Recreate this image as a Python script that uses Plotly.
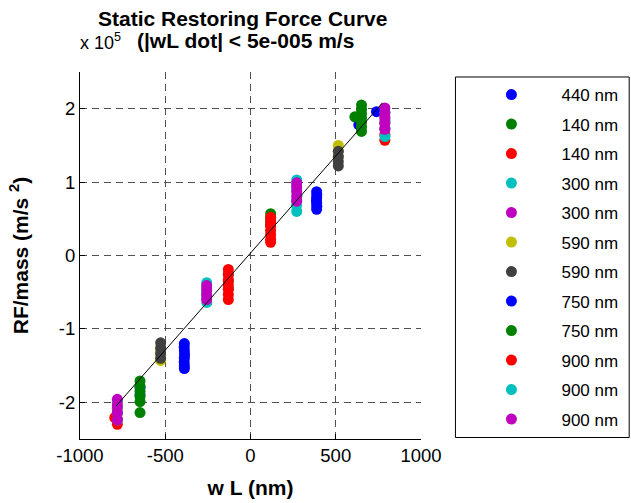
import plotly.graph_objects as go

# ---- data (wL in nm, RF/mass in units of 1e5 m/s^2) ----
labels = ["440 nm", "140 nm", "140 nm", "300 nm", "300 nm", "590 nm",
          "590 nm", "750 nm", "750 nm", "900 nm", "900 nm", "900 nm"]
colors = ["#0000ff", "#008000", "#ff0000", "#00bfbf", "#bf00bf", "#bfbf00",
          "#404040", "#0000ff", "#008000", "#ff0000", "#00bfbf", "#bf00bf"]

x_440_blue = [388, 389, 388, 387, 388, 389, 388, -388, -389, -388, -387, -388, -389, -388, -388]
y_440_blue = [0.87, 0.83, 0.79, 0.75, 0.71, 0.67, 0.63, -1.20, -1.25, -1.30, -1.35, -1.40, -1.45, -1.50, -1.54]

x_140_green = [118, 118, 118, 117, -130, -130, -130]
y_140_green = [0.57, 0.52, 0.47, 0.42, -0.25, -0.35, -0.45]

x_140_red = [118, 118, 118, 118, 118, 118, 118, -130, -130, -130, -130, -130, -130, -130]
y_140_red = [0.52, 0.46, 0.40, 0.34, 0.28, 0.22, 0.18, -0.19, -0.26, -0.33, -0.40, -0.46, -0.53, -0.60]

x_300_cyan = [271, 270, 271, 272, 271, 270, 271, -257, -257, -258, -257, -256]
y_300_cyan = [1.03, 0.96, 0.89, 0.82, 0.75, 0.68, 0.60, -0.37, -0.44, -0.51, -0.58, -0.64]

x_300_mag = [271, 271, 271, 271, 271, -257, -257, -257, -257]
y_300_mag = [0.99, 0.93, 0.87, 0.80, 0.74, -0.41, -0.47, -0.54, -0.60]

x_590_yel = [515, 515, 515, -527, -527, -527]
y_590_yel = [1.50, 1.42, 1.34, -1.28, -1.36, -1.43]

x_590_gray = [515, 515, 515, 515, -527, -527, -527, -527]
y_590_gray = [1.42, 1.35, 1.28, 1.22, -1.19, -1.26, -1.33, -1.40]

x_750_blue = [739, 635, -648, -648]
y_750_blue = [1.96, 1.78, -1.80, -1.90]

x_750_green = [651, 651, 651, 651, 651, 651, 651, 612, -648, -648, -648, -648, -648, -648]
y_750_green = [2.05, 1.99, 1.93, 1.87, 1.81, 1.75, 1.69, 1.89, -1.71, -1.78, -1.85, -1.92, -1.99, -2.14]

x_900_red = [788, 788, 788, 788, 788, -781, -781, -781, -781, -781, -796]
y_900_red = [1.90, 1.81, 1.73, 1.65, 1.57, -2.00, -2.08, -2.15, -2.23, -2.30, -2.21]

x_900_cyan = [789, 789, 789, 789, -780, -780, -780, -780]
y_900_cyan = [1.95, 1.84, 1.73, 1.62, -1.98, -2.06, -2.14, -2.24]

x_900_mag = [788, 788, 788, 788, 788, -781, -781, -781, -781]
y_900_mag = [2.01, 1.94, 1.87, 1.80, 1.72, -1.96, -2.05, -2.14, -2.24]

fit_x = [-788, 774]
fit_y = [-2.05, 2.08]

series_x = [x_440_blue, x_140_green, x_140_red, x_300_cyan, x_300_mag, x_590_yel,
            x_590_gray, x_750_blue, x_750_green, x_900_red, x_900_cyan, x_900_mag]
series_y = [y_440_blue, y_140_green, y_140_red, y_300_cyan, y_300_mag, y_590_yel,
            y_590_gray, y_750_blue, y_750_green, y_900_red, y_900_cyan, y_900_mag]

x_ticks = [-1000, -500, 0, 500, 1000]
y_ticks = [-2, -1, 0, 1, 2]

FONT = "Liberation Sans, Arial, sans-serif"

fig = go.Figure()
for i, (lab, col, xs, ys) in enumerate(zip(labels, colors, series_x, series_y)):
    fig.add_trace(go.Scatter(
        x=xs, y=ys, mode="markers", name=lab, legendgroup=f"g{i}",
        marker=dict(color=col, size=11, line=dict(width=0)),
    ))
fig.add_trace(go.Scatter(x=fit_x, y=fit_y, mode="lines", showlegend=False,
                         line=dict(color="black", width=1)))

# plot area in pixels
L, R, T, B = 80, 421.5, 72, 439.5
W, H = 631, 503
pw, ph = R - L, B - T


def px(x):
    return (x - L) / pw


def py(y):
    return (B - y) / ph


fig.update_layout(
    width=W, height=H,
    margin=dict(l=L, r=W - R, t=T, b=H - B, autoexpand=False),
    paper_bgcolor="white", plot_bgcolor="white",
    font=dict(family=FONT, color="black"),
    showlegend=True,
    legend=dict(
        x=px(462), xanchor="left", y=py(77), yanchor="top",
        bgcolor="rgba(0,0,0,0)", borderwidth=0,
        font=dict(size=17, family=FONT),
        itemwidth=90, tracegroupgap=4.4, traceorder="grouped",
    ),
    xaxis=dict(
        range=[-1000, 1000], tickvals=x_ticks, ticktext=[str(v) for v in x_ticks],
        showgrid=True, gridcolor="#505050", griddash="7px,5px", gridwidth=1,
        showline=True, linecolor="black", linewidth=1, mirror=False,
        ticks="inside", ticklen=5, tickcolor="black", zeroline=False,
        tickfont=dict(size=18.5, family=FONT),
        title=dict(text="<b>w L (nm)</b>", font=dict(size=21, family=FONT), standoff=15),
    ),
    yaxis=dict(
        range=[-2.5, 2.5], tickvals=y_ticks, ticktext=[str(v) for v in y_ticks],
        showgrid=True, gridcolor="#505050", griddash="7px,5px", gridwidth=1,
        showline=True, linecolor="black", linewidth=1, mirror=False,
        ticks="inside", ticklen=5, tickcolor="black", zeroline=False,
        tickfont=dict(size=18.5, family=FONT),
        title=dict(text="<b>RF/mass (m/s <sup>2</sup>)</b>", font=dict(size=21, family=FONT), standoff=24),
    ),
    shapes=[dict(type="rect", xref="paper", yref="paper",
                 x0=px(456), x1=px(630), y0=py(438), y1=py(77),
                 line=dict(color="black", width=1), fillcolor="rgba(0,0,0,0)")],
    annotations=[
        dict(text="<b>Static Restoring Force Curve</b>", xref="paper", yref="paper",
             x=px(243), y=py(18), xanchor="center", yanchor="middle", showarrow=False,
             borderpad=0, font=dict(size=21, family=FONT)),
        dict(text="<b>(|wL dot| < 5e-005 m/s</b>", xref="paper", yref="paper",
             x=px(136), y=py(40), xanchor="left", yanchor="middle", showarrow=False,
             borderpad=0, font=dict(size=21, family=FONT)),
        dict(text="x 10<sup>5</sup>", xref="paper", yref="paper",
             x=px(79), y=py(41), xanchor="left", yanchor="middle", showarrow=False,
             borderpad=0, font=dict(size=18, family=FONT)),
    ],
)

fig.write_html("out.html")
